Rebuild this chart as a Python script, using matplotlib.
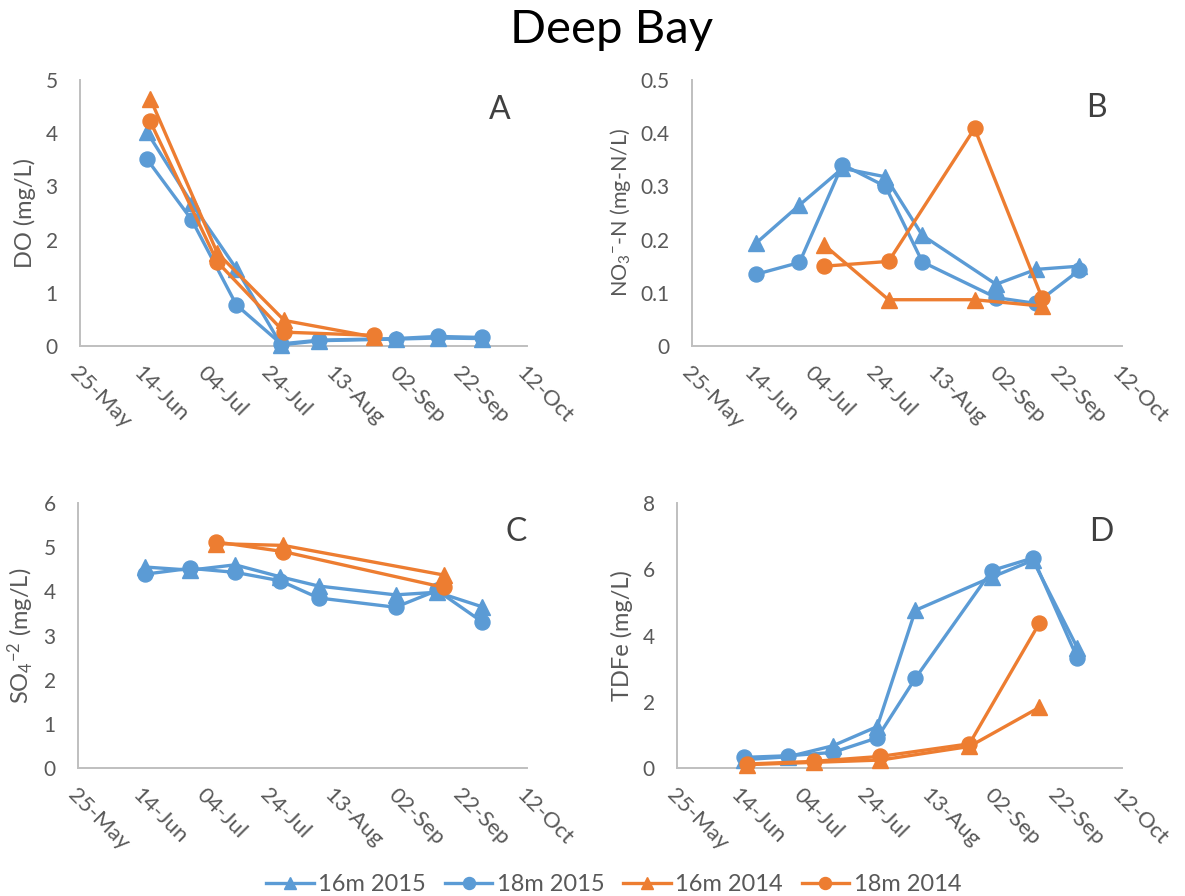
import matplotlib
matplotlib.use("Agg")
import matplotlib.pyplot as plt
import matplotlib.dates as mdates
import pandas as pd
import numpy as np

plt.rcParams['font.family'] = ['Lato', 'DejaVu Sans']
plt.rcParams['mathtext.fontset'] = 'custom'
plt.rcParams['mathtext.rm'] = 'Lato'
plt.rcParams['mathtext.it'] = 'Lato:italic'
plt.rcParams['mathtext.bf'] = 'Lato:bold'

YEAR = '2015'
# sampling dates (plotted on a common seasonal axis)
dates_2015 = ['06-15', '06-29', '07-13', '07-27', '08-08', '09-01', '09-14', '09-28']
dates_2014_A = ['06-16', '07-07', '07-28', '08-25']
dates_2014_B = ['07-07', '07-28', '08-25', '09-16']
dates_2014_C = ['07-07', '07-28', '09-16']
dates_2014_D = ['06-16', '07-07', '07-28', '08-25', '09-16']

# A: DO (mg/L)
do_16m_2015 = [4.02, 2.68, 1.45, 0.02, 0.10, 0.13, 0.15, 0.14]
do_18m_2015 = [3.51, 2.37, 0.77, 0.04, 0.11, 0.14, 0.18, 0.16]
do_16m_2014 = [4.65, 1.75, 0.48, 0.17]
do_18m_2014 = [4.22, 1.58, 0.26, 0.20]

# B: NO3-N (mg-N/L)
no3_16m_2015 = [0.194, 0.265, 0.334, 0.318, 0.208, 0.116, 0.144, 0.150]
no3_18m_2015 = [0.135, 0.157, 0.341, 0.300, 0.158, 0.091, 0.080, 0.142]
no3_16m_2014 = [0.190, 0.087, 0.087, 0.075]
no3_18m_2014 = [0.150, 0.159, 0.409, 0.090]

# C: SO4 (mg/L)
so4_16m_2015 = [4.55, 4.48, 4.60, 4.33, 4.12, 3.92, 3.98, 3.65]
so4_18m_2015 = [4.39, 4.52, 4.43, 4.24, 3.85, 3.64, 4.02, 3.31]
so4_16m_2014 = [5.08, 5.04, 4.37]
so4_18m_2014 = [5.12, 4.90, 4.09]

# D: TDFe (mg/L)
fe_16m_2015 = [0.25, 0.34, 0.67, 1.25, 4.76, 5.76, 6.27, 3.62]
fe_18m_2015 = [0.32, 0.37, 0.47, 0.91, 2.71, 5.96, 6.34, 3.31]
fe_16m_2014 = [0.10, 0.17, 0.24, 0.65, 1.83]
fe_18m_2014 = [0.12, 0.20, 0.35, 0.73, 4.37]

series_labels = ['16m 2015', '18m 2015', '16m 2014', '18m 2014']
x_ticks = ['05-25', '06-14', '07-04', '07-24', '08-13', '09-02', '09-22', '10-12']

BLUE = '#5B9BD5'
ORANGE = '#ED7D31'
GRAY = '#595959'
AXC = '#BFBFBF'


def d(lst):
    return pd.to_datetime([f'{YEAR}-{s}' for s in lst])


fig = plt.figure(figsize=(11.85, 8.96), dpi=100)
W, H = 1185, 896


def make_ax(l, r, t, b):
    return fig.add_axes([l / W, 1 - b / H, (r - l) / W, (b - t) / H])


axA = make_ax(80, 527, 80, 346)
axB = make_ax(692, 1122, 80, 346)
axC = make_ax(78, 527, 503, 768)
axD = make_ax(677, 1122, 503, 768)

panels = [
    (axA, [do_16m_2015, do_18m_2015, do_16m_2014, do_18m_2014], dates_2014_A,
     (0, 5), np.arange(0, 5.01, 1), 'DO (mg/L)', 17, 'A', -0.098, (0.94, 0.887)),
    (axB, [no3_16m_2015, no3_18m_2015, no3_16m_2014, no3_18m_2014], dates_2014_B,
     (0, 0.5), np.arange(0, 0.501, 0.1), r'NO$_{3}$$^{-}$-N (mg-N/L)', 15.5, 'B', -0.137, (0.94, 0.895)),
    (axC, [so4_16m_2015, so4_18m_2015, so4_16m_2014, so4_18m_2014], dates_2014_C,
     (0, 6), np.arange(0, 6.01, 1), r'SO$_{4}$$^{-2}$ (mg/L)', 17, 'C', -0.094, (0.975, 0.89)),
    (axD, [fe_16m_2015, fe_18m_2015, fe_16m_2014, fe_18m_2014], dates_2014_D,
     (0, 8), np.arange(0, 8.01, 2), 'TDFe (mg/L)', 17, 'D', -0.099, (0.953, 0.89)),
]

handles = None
for ax, vals, d14, ylim, yt, ylabel, ylsize, letter, lx, lpos in panels:
    hs = []
    h, = ax.plot(d(dates_2015), vals[0], color=BLUE, marker='^', markersize=11, lw=2.4, clip_on=False, zorder=3)
    hs.append(h)
    h, = ax.plot(d(dates_2015), vals[1], color=BLUE, marker='o', markersize=10.8, lw=2.4, clip_on=False, zorder=3)
    hs.append(h)
    h, = ax.plot(d(d14), vals[2], color=ORANGE, marker='^', markersize=11, lw=2.4, clip_on=False, zorder=4)
    hs.append(h)
    h, = ax.plot(d(d14), vals[3], color=ORANGE, marker='o', markersize=10.8, lw=2.4, clip_on=False, zorder=4)
    hs.append(h)
    if handles is None:
        handles = hs

    ax.set_xlim(d(['05-25'])[0], d(['10-12'])[0])
    ax.set_ylim(*ylim)
    ax.set_yticks(yt)
    ax.set_yticklabels([f'{v:g}' for v in yt])
    ax.set_xticks(d(x_ticks))
    ax.xaxis.set_major_formatter(mdates.DateFormatter('%d-%b'))
    for s in ['top', 'right']:
        ax.spines[s].set_visible(False)
    for s in ['left', 'bottom']:
        ax.spines[s].set_color(AXC)
        ax.spines[s].set_linewidth(1.4)
    ax.tick_params(axis='both', length=0, colors=GRAY)
    ax.tick_params(axis='y', pad=16, labelsize=15)
    ax.tick_params(axis='x', pad=12, labelsize=16)
    for lab in ax.get_xticklabels():
        lab.set_rotation(-45)
        lab.set_ha('left')
        lab.set_va('top')
        lab.set_rotation_mode('anchor')
    ax.set_ylabel(ylabel, fontsize=ylsize, color=GRAY)
    ax.yaxis.set_label_coords(lx, 0.5)
    ax.text(lpos[0], lpos[1], letter, transform=ax.transAxes, fontsize=23, color='#404040',
            ha='center', va='center')

fig.text(0.516, 0.966, 'Deep Bay', ha='center', va='center', fontsize=34, color='black')

fig.legend(handles, series_labels, loc='center', bbox_to_anchor=(0.518, 0.013), ncol=4,
           frameon=False, fontsize=17, labelcolor=GRAY, handlelength=2.0,
           markerscale=0.8, columnspacing=0.8, handletextpad=0.2)

fig.savefig('out.png', dpi=100)
